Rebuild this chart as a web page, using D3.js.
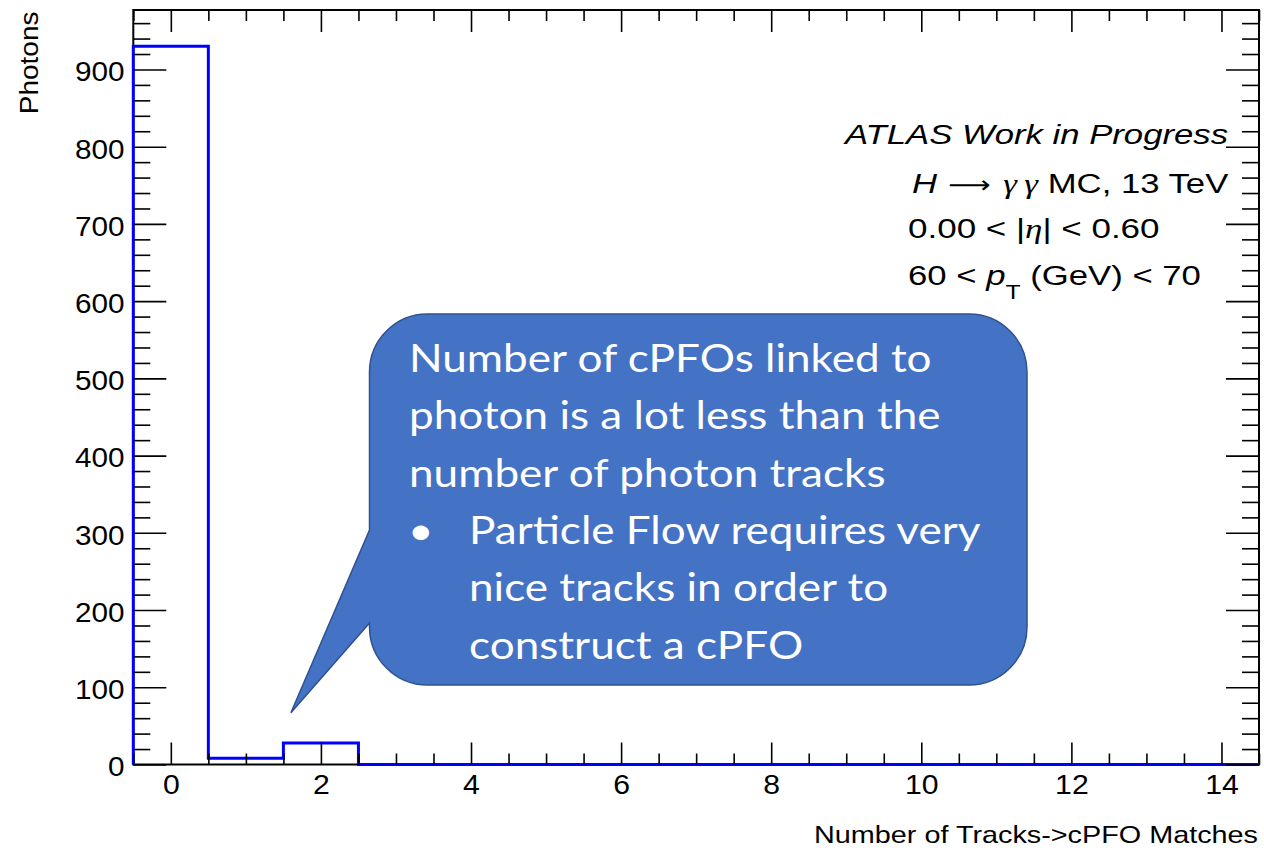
<!DOCTYPE html>
<html>
<head>
<meta charset="utf-8">
<script src="https://cdn.jsdelivr.net/npm/d3@7"></script>
<style>
  html, body { margin: 0; padding: 0; background: #fff; }
  svg { display: block; }
</style>
</head>
<body>
<svg id="chart" width="1264" height="853"></svg>
<script>
// ---------------- data ----------------
const binCenters = [0, 1, 2, 3, 4, 5, 6, 7, 8, 9, 10, 11, 12, 13, 14];
const photonCounts = [930, 8, 28, 0, 0, 0, 0, 0, 0, 0, 0, 0, 0, 0, 0];
const xTickLabels = [0, 2, 4, 6, 8, 10, 12, 14];
const yTickLabels = [0, 100, 200, 300, 400, 500, 600, 700, 800, 900];
const xTitle = "Number of Tracks->cPFO Matches";
const yTitle = "Photons";
const calloutLines = [
  "Number of cPFOs linked to",
  "photon is a lot less than the",
  "number of photon tracks"
];
const calloutBullet = [
  "Particle Flow requires very",
  "nice tracks in order to",
  "construct a cPFO"
];

// ---------------- layout ----------------
const svg = d3.select("#chart");
const plot = { left: 133.3, right: 1259, top: 10, bottom: 764.5 };
const x = d3.scaleLinear().domain([-0.5, 14.5]).range([plot.left, plot.right]);
const y = d3.scaleLinear().domain([0, 977]).range([plot.bottom, plot.top]);
const rootFont = "'Liberation Sans', Arial, Helvetica, sans-serif";
const greekFont = "'Liberation Serif', 'DejaVu Serif', serif";
const arrowFont = "'DejaVu Sans', sans-serif";

// frame
svg.append("rect")
  .attr("x", plot.left).attr("y", plot.top)
  .attr("width", plot.right - plot.left).attr("height", plot.bottom - plot.top)
  .attr("fill", "none").attr("stroke", "#000").attr("stroke-width", 2);

// histogram outline
const lo = x.domain()[0], hi = x.domain()[1];
const pts = [[lo, 0]];
binCenters.forEach((c, i) => {
  pts.push([c - 0.5, photonCounts[i]]);
  pts.push([c + 0.5, photonCounts[i]]);
});
pts.push([hi, 0]);
svg.append("path")
  .attr("d", d3.line().x(d => x(d[0])).y(d => y(d[1]))(pts))
  .attr("fill", "none").attr("stroke", "#0000ff").attr("stroke-width", 3)
  .attr("stroke-linejoin", "miter");

// axes (ROOT-style inward ticks)
const xMinor = d3.range(-0.5, 14.51, 0.5).filter(v => Math.abs(v / 2 - Math.round(v / 2)) > 1e-6);
const yMinor = d3.range(0, 977, 20).filter(v => v % 100 !== 0);

function styleAxis(g) {
  g.select(".domain").remove();
  g.selectAll(".tick line").attr("stroke", "#000").attr("stroke-width", 1.6);
}

// bottom
const gB = svg.append("g").attr("transform", `translate(0,${plot.bottom})`)
  .call(d3.axisBottom(x).tickValues(xTickLabels).tickSize(-22).tickSizeOuter(0).tickPadding(10))
  .call(styleAxis);
gB.selectAll("text").attr("font-family", rootFont).attr("font-size", 27).attr("fill", "#000")
  .attr("transform", "scale(1.12,1)");
svg.append("g").attr("transform", `translate(0,${plot.bottom})`)
  .call(d3.axisBottom(x).tickValues(xMinor).tickSize(-11).tickSizeOuter(0).tickFormat(""))
  .call(styleAxis);
// top
svg.append("g").attr("transform", `translate(0,${plot.top})`)
  .call(d3.axisTop(x).tickValues(xTickLabels).tickSize(-22).tickSizeOuter(0).tickFormat(""))
  .call(styleAxis);
svg.append("g").attr("transform", `translate(0,${plot.top})`)
  .call(d3.axisTop(x).tickValues(xMinor).tickSize(-11).tickSizeOuter(0).tickFormat(""))
  .call(styleAxis);
// left
const gL = svg.append("g").attr("transform", `translate(${plot.left},0)`)
  .call(d3.axisLeft(y).tickValues(yTickLabels).tickSize(-33).tickSizeOuter(0).tickPadding(8))
  .call(styleAxis);
gL.selectAll("text").attr("font-family", rootFont).attr("font-size", 27).attr("fill", "#000")
  .attr("dy", "0.42em").attr("transform", "scale(1.1,1)");
svg.append("g").attr("transform", `translate(${plot.left},0)`)
  .call(d3.axisLeft(y).tickValues(yMinor).tickSize(-17).tickSizeOuter(0).tickFormat(""))
  .call(styleAxis);
// right
svg.append("g").attr("transform", `translate(${plot.right},0)`)
  .call(d3.axisRight(y).tickValues(yTickLabels).tickSize(-33).tickSizeOuter(0).tickFormat(""))
  .call(styleAxis);
svg.append("g").attr("transform", `translate(${plot.right},0)`)
  .call(d3.axisRight(y).tickValues(yMinor).tickSize(-17).tickSizeOuter(0).tickFormat(""))
  .call(styleAxis);

// axis titles
svg.append("text")
  .attr("transform", `translate(1258,843) scale(1.2,1)`)
  .attr("text-anchor", "end").attr("font-family", rootFont).attr("font-size", 24)
  .text(xTitle);
svg.append("text")
  .attr("transform", `translate(38,11.5) rotate(-90) scale(1.12,1)`)
  .attr("text-anchor", "end").attr("font-family", rootFont).attr("font-size", 25)
  .text(yTitle);

// ATLAS labels
const lab = svg.append("g").attr("font-family", rootFont).attr("font-size", 28).attr("fill", "#000");
lab.append("text").attr("transform", "translate(1228,143.5) scale(1.24,1)")
  .attr("text-anchor", "end").attr("font-style", "italic").text("ATLAS Work in Progress");

const l2 = lab.append("text").attr("transform", "translate(912,193) scale(1.24,1)");
l2.append("tspan").attr("font-style", "italic").text("H");
l2.append("tspan").attr("font-family", arrowFont).attr("font-size", 24).attr("dx", 9).text("\u27F6");
l2.append("tspan").attr("font-family", greekFont).attr("font-style", "italic").attr("dx", 10).text("\u03B3");
l2.append("tspan").attr("font-family", greekFont).attr("font-style", "italic").attr("dx", 6).text("\u03B3");
l2.append("tspan").text(" MC, 13 TeV");

const l3 = lab.append("text").attr("transform", "translate(908,238) scale(1.25,1)");
l3.append("tspan").text("0.00 < |");
l3.append("tspan").attr("font-family", greekFont).attr("font-style", "italic").text("\u03B7");
l3.append("tspan").text("| < 0.60");

const l4 = lab.append("text").attr("transform", "translate(908,285) scale(1.24,1)");
l4.append("tspan").text("60 < ");
l4.append("tspan").attr("font-style", "italic").text("p");
l4.append("tspan").attr("font-size", 20).attr("dy", 14).text("T");
l4.append("tspan").attr("dy", -14).text(" (GeV) < 70");

// ---------------- callout ----------------
const cb = { l: 369.5, t: 314, r: 1027, b: 685, rad: 58 };
const tip = [x(1.6), y(67)];
const base1 = 530, base2 = 623;
const cp = d3.path();
cp.moveTo(cb.l + cb.rad, cb.t);
cp.lineTo(cb.r - cb.rad, cb.t);
cp.arcTo(cb.r, cb.t, cb.r, cb.t + cb.rad, cb.rad);
cp.lineTo(cb.r, cb.b - cb.rad);
cp.arcTo(cb.r, cb.b, cb.r - cb.rad, cb.b, cb.rad);
cp.lineTo(cb.l + cb.rad, cb.b);
cp.arcTo(cb.l, cb.b, cb.l, cb.b - cb.rad, cb.rad);
cp.lineTo(cb.l, base2);
cp.lineTo(tip[0], tip[1]);
cp.lineTo(cb.l, base1);
cp.lineTo(cb.l, cb.t + cb.rad);
cp.arcTo(cb.l, cb.t, cb.l + cb.rad, cb.t, cb.rad);
cp.closePath();
svg.append("path").attr("d", cp.toString())
  .attr("fill", "#4472C4").attr("stroke", "#2F528F").attr("stroke-width", 1.5);

const ct = svg.append("g").attr("font-family", "Lato, 'Open Sans', sans-serif")
  .attr("font-size", 39).attr("fill", "#fff");
const lineStep = 57.3, firstBase = 372, sx = 1.13;
calloutLines.forEach((t, i) => {
  ct.append("text").attr("transform", `translate(409,${firstBase + i * lineStep}) scale(${sx},1)`).text(t);
});
ct.append("text").attr("transform", `translate(408,${firstBase + 3 * lineStep}) scale(${sx},1)`).text("\u2022");
calloutBullet.forEach((t, i) => {
  ct.append("text").attr("transform", `translate(469,${firstBase + (3 + i) * lineStep}) scale(${sx},1)`).text(t);
});
</script>
</body>
</html>
